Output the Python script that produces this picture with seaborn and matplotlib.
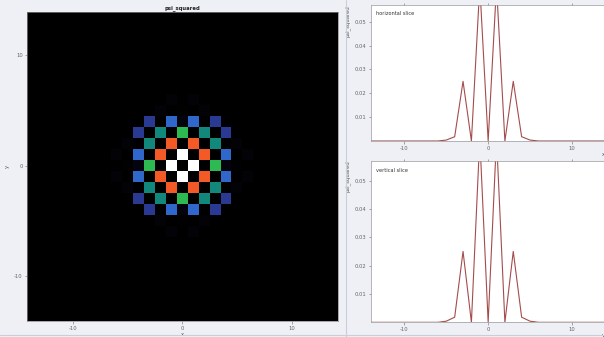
import numpy as np
import pandas as pd
import matplotlib
matplotlib.use("Agg")
import matplotlib.pyplot as plt
from matplotlib.colors import LinearSegmentedColormap
from matplotlib.lines import Line2D
import seaborn as sns

sns.set_theme(style="white")
plt.rcParams["font.family"] = ["DejaVu Sans"]

# grid coordinates (same for x and y)
coords = list(range(-14, 15))

# |psi|^2 in one quadrant: rows are |y| = 0..6, columns are |x| = 0..6
W, O, G, T, B, D, F = 0.065, 0.040, 0.025, 0.016, 0.010, 0.006, 0.0010
quadrant = [
    [0.0,    W,   0.0, G,   0.0018, 0.0004, 0.0],
    [W,      0.0, O,   0.0, B,      0.0,    F],
    [0.0,    O,   0.0, T,   0.0,    F,      0.0],
    [G,      0.0, T,   0.0, D,      0.0,    0.0],
    [0.0018, B,   0.0, D,   0.0,    0.0,    0.0],
    [0.0004, 0.0, F,   0.0, 0.0,    0.0,    0.0],
    [0.0,    F,   0.0, 0.0, 0.0,    0.0,    0.0],
]

# slices through the centre row / column, x = -14 .. 14
slice_x = coords
horizontal_slice = [0, 0, 0, 0, 0, 0, 0, 0, 0,
                    0.0004, 0.0018, 0.025, 0, W, 0, W, 0, 0.025, 0.0018, 0.0004,
                    0, 0, 0, 0, 0, 0, 0, 0, 0]
vertical_slice = [0, 0, 0, 0, 0, 0, 0, 0, 0,
                  0.0004, 0.0018, 0.025, 0, W, 0, W, 0, 0.025, 0.0018, 0.0004,
                  0, 0, 0, 0, 0, 0, 0, 0, 0]

# build the full field from the quadrant (mirror symmetric)
q = np.array(quadrant)
n = len(coords)
field = np.zeros((n, n))
for r, yv in enumerate(coords[::-1]):
    for c, xv in enumerate(coords):
        ay, ax_ = abs(yv), abs(xv)
        if ay < q.shape[0] and ax_ < q.shape[1]:
            field[r, c] = q[ay, ax_]
df = pd.DataFrame(field, index=coords[::-1], columns=coords)

vmax = W
cmap = LinearSegmentedColormap.from_list(
    "psi",
    [
        (0.0, "#000000"),
        (0.003 / vmax, "#07071a"),
        (D / vmax, "#2c3c98"),
        (B / vmax, "#2f68cc"),
        (T / vmax, "#12877c"),
        (G / vmax, "#2dba52"),
        (O / vmax, "#f45a26"),
        (1.0, "#ffffff"),
    ],
)

bg = "#eef0f5"
fig = plt.figure(figsize=(6.04, 3.37), dpi=100, facecolor=bg)

tick_kw = dict(labelsize=3.8, length=1.8, width=0.4, colors="#666666", pad=1.5)
label_kw = dict(fontsize=3.8, color="#555555")

# ---- 2D map ----
ax0 = fig.add_axes([0.0452, 0.0475, 0.5139, 0.9178])
sns.heatmap(df, ax=ax0, cmap=cmap, vmin=0, vmax=vmax, cbar=False,
            xticklabels=False, yticklabels=False, linewidths=0)
ax0.set_aspect("auto")
ax0.set_xlim(14.5 - 14.15, 14.5 + 14.2)
ax0.set_ylim(14.5 + 14.1, 14.5 - 13.95)
ax0.set_xticks([c + 14.5 for c in (-10, 0, 10)])
ax0.set_xticklabels(["-10", "0", "10"])
ax0.set_yticks([14.5 - c for c in (10, 0, -10)])
ax0.set_yticklabels(["10", "0", "-10"])
ax0.tick_params(axis="both", bottom=True, left=True, **tick_kw)
ax0.set_xlabel("x", labelpad=1, **label_kw)
ax0.set_ylabel("y", labelpad=3, **label_kw)
ax0.set_title("psi_squared", fontsize=3.8, fontweight="bold", pad=2, color="#222222")
for s in ax0.spines.values():
    s.set_visible(True)
    s.set_color("#888888")
    s.set_linewidth(0.5)

# ---- slices ----
def slice_panel(rect, values, name, xlab):
    ax = fig.add_axes(rect)
    ax.set_facecolor("white")
    sns.lineplot(x=slice_x, y=values, ax=ax, color="#a44c4c", linewidth=0.8)
    ax.set_xlim(-14, 14)
    ax.set_ylim(0, 0.057)
    ax.set_xticks([-10, 0, 10])
    ax.set_xticklabels(["-10", "0", "10"])
    ax.set_yticks([0.01, 0.02, 0.03, 0.04, 0.05])
    ax.set_yticklabels(["0.01", "0.02", "0.03", "0.04", "0.05"])
    ax.tick_params(axis="both", bottom=True, left=True, top=True, **tick_kw)
    ax.set_xlabel(xlab, loc="right", labelpad=1, **label_kw)
    ax.set_ylabel("psi_squared", loc="top", labelpad=3, **label_kw)
    ax.text(0.02, 0.955, name, transform=ax.transAxes, fontsize=3.6,
            color="#333333", va="top", ha="left")
    for s in ax.spines.values():
        s.set_color("#999999")
        s.set_linewidth(0.5)
    return ax

slice_panel([0.6142, 0.5816, 0.388, 0.4036], horizontal_slice, "horizontal slice", "x")
slice_panel([0.6142, 0.0436, 0.388, 0.4795], vertical_slice, "vertical slice", "y")

# panel dividers
fig.add_artist(Line2D([346 / 604, 346 / 604], [0, 1], color="#c9ced8", linewidth=0.8))
fig.add_artist(Line2D([0, 1], [2 / 337, 2 / 337], color="#c9ced8", linewidth=0.8))

fig.savefig("out.png", dpi=100, facecolor=bg)
